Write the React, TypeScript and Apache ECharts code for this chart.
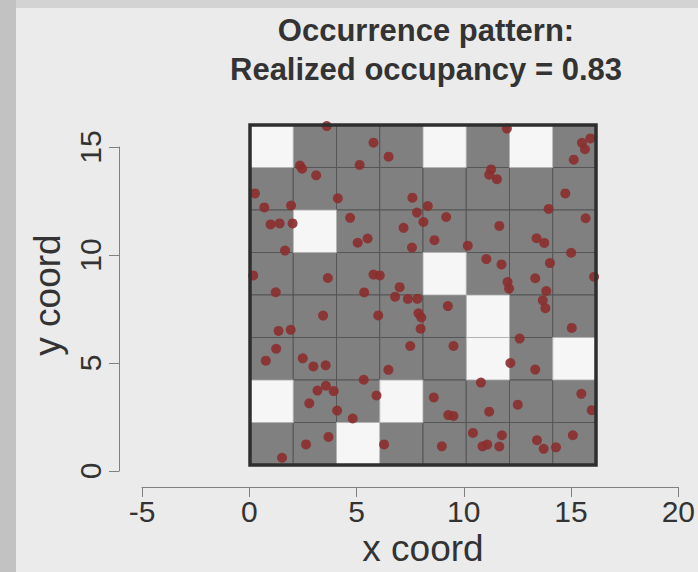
import React, { useEffect, useRef } from "react";
import * as echarts from "echarts";

const titleLines = ["Occurrence pattern:", "Realized occupancy = 0.83"];
const xAxisTitle = "x coord";
const yAxisTitle = "y coord";
const xTickRange = [-5, 20];
const yTickRange = [0, 15];
const tickStep = 5;
const fieldRange = [0, 16];
const cellSize = 2;

// occupancy per 2x2 cell, top row (y 14–16) first, down to bottom row (y 0–2); 1 = occupied
const occupancyRows = [
  [0, 1, 1, 1, 0, 1, 0, 1],
  [1, 1, 1, 1, 1, 1, 1, 1],
  [1, 0, 1, 1, 1, 1, 1, 1],
  [1, 1, 1, 1, 0, 1, 1, 1],
  [1, 1, 1, 1, 1, 0, 1, 1],
  [1, 1, 1, 1, 1, 0, 1, 0],
  [0, 1, 1, 0, 1, 1, 1, 1],
  [1, 1, 0, 1, 1, 1, 1, 1],
];

const pointX = [
  3.55, 5.71, 6.41, 5.07, 2.31, 2.41, 3.06, 0.23, 4.06, 7.51,
  0.66, 1.9, 7.72, 4.63, 0.95, 1.37, 1.97, 7.1, 4.98, 5.44,
  7.49, 1.62, 0.15, 3.6, 5.71, 6.0, 6.92, 1.19, 5.28, 8.22,
  9.07, 8.02, 8.53, 10.07, 11.88, 15.35, 15.74, 15.49, 14.97, 11.15,
  11.06, 11.42, 14.58, 13.81, 15.52, 11.53, 13.25, 13.61, 14.85, 10.93,
  11.63, 13.87, 15.91, 13.19, 11.91, 11.98, 13.7, 6.71, 7.3, 7.74,
  3.38, 5.93, 9.15, 7.79, 7.92, 7.89, 1.32, 1.88, 1.21, 7.41,
  9.41, 0.73, 2.44, 2.93, 3.5, 6.4, 5.26, 3.51, 3.12, 3.87,
  5.85, 2.74, 4.03, 4.75, 3.63, 6.2, 2.59, 1.48, 8.5, 9.17,
  9.41, 10.31, 8.87, 13.54, 13.66, 14.88, 12.47, 12.04, 13.19, 10.68,
  15.32, 12.38, 15.8, 11.06, 11.65, 14.93, 13.27, 10.75, 10.97, 11.53,
  13.58, 14.15,
];
const pointY = [
  15.95, 15.17, 14.51, 14.12, 14.09, 13.94, 13.63, 12.78, 12.55, 12.58,
  12.12, 12.21, 11.88, 11.63, 11.32, 11.37, 11.37, 11.16, 10.46, 10.66,
  10.23, 10.09, 8.92, 8.8, 8.96, 8.92, 8.37, 8.13, 8.12, 12.19,
  11.67, 11.44, 10.58, 10.32, 15.83, 15.16, 15.37, 14.86, 14.37, 13.91,
  13.66, 13.45, 12.78, 12.05, 11.61, 11.25, 10.67, 10.45, 9.99, 9.69,
  9.44, 9.5, 8.86, 8.79, 8.61, 8.3, 8.19, 7.92, 7.81, 7.82,
  7.03, 7.04, 7.48, 7.14, 6.94, 6.41, 6.31, 6.36, 5.47, 5.6,
  5.6, 4.91, 5.02, 4.64, 4.69, 4.48, 4.01, 3.73, 3.5, 3.48,
  3.27, 2.9, 2.56, 2.19, 1.32, 0.97, 0.97, 0.34, 3.18, 2.35,
  2.31, 1.51, 0.88, 7.75, 7.38, 6.45, 5.95, 4.8, 4.49, 3.88,
  3.35, 2.84, 2.58, 2.51, 1.4, 1.4, 1.17, 0.88, 0.96, 0.87,
  0.76, 0.83,
];

const FONT = '"Liberation Sans", Arial, sans-serif';

export default function App() {
  const ref = useRef<HTMLDivElement>(null);

  useEffect(() => {
    if (!ref.current) return;
    const chart = echarts.init(ref.current, undefined, { renderer: "svg" });

    const nRows = occupancyRows.length;
    const cells: number[][] = [];
    occupancyRows.forEach((row, i) => {
      row.forEach((occ, j) => {
        cells.push([j * cellSize, (nRows - 1 - i) * cellSize, occ]);
      });
    });
    // occupied cells first so the empty cells' light edges sit on top
    cells.sort((a, b) => b[2] - a[2]);

    const points = pointX.map((x, i) => [x, pointY[i]]);

    const option: any = {
      animation: false,
      backgroundColor: "#ebebeb",
      title: {
        text: titleLines.join("\n"),
        left: 421,
        top: 6,
        textAlign: "center",
        textStyle: {
          fontSize: 31,
          fontWeight: "bold",
          lineHeight: 39,
          color: "#333333",
          fontFamily: FONT,
        },
      },
      graphic: [
        {
          type: "rect",
          z: -10,
          shape: { x: 0, y: 0, width: 698, height: 8 },
          style: { fill: "#d3d3d3" },
        },
        {
          type: "rect",
          z: -10,
          shape: { x: 0, y: 0, width: 16, height: 572 },
          style: { fill: "#c2c2c2" },
        },
      ],
      grid: [
        { left: 250, top: 125, width: 346, height: 346 },
        { left: 142, top: 486, width: 540, height: 1 },
        { left: 119, top: 147, width: 1, height: 324 },
      ],
      xAxis: [
        {
          gridIndex: 0,
          type: "value",
          min: fieldRange[0],
          max: fieldRange[1],
          axisLine: { show: false },
          axisTick: { show: false },
          axisLabel: { show: false },
          splitLine: { show: false },
          name: xAxisTitle,
          nameLocation: "middle",
          nameGap: 65,
          nameTextStyle: { fontSize: 37, color: "#333333", fontFamily: FONT },
        },
        {
          gridIndex: 1,
          type: "value",
          min: xTickRange[0],
          max: xTickRange[1],
          interval: tickStep,
          axisLine: { show: true, lineStyle: { color: "#808080", width: 1 } },
          axisTick: { show: true, length: 10, lineStyle: { color: "#808080", width: 1 } },
          axisLabel: { fontSize: 30, color: "#333333", fontFamily: FONT, margin: 9 },
          splitLine: { show: false },
        },
        { gridIndex: 2, type: "value", show: false, min: 0, max: 1 },
      ],
      yAxis: [
        {
          gridIndex: 0,
          type: "value",
          min: fieldRange[0],
          max: fieldRange[1],
          axisLine: { show: false },
          axisTick: { show: false },
          axisLabel: { show: false },
          splitLine: { show: false },
          name: yAxisTitle,
          nameLocation: "middle",
          nameGap: 184,
          nameTextStyle: { fontSize: 37, color: "#333333", fontFamily: FONT },
        },
        { gridIndex: 1, type: "value", show: false, min: 0, max: 1 },
        {
          gridIndex: 2,
          type: "value",
          min: yTickRange[0],
          max: yTickRange[1],
          interval: tickStep,
          axisLine: { show: true, lineStyle: { color: "#808080", width: 1 } },
          axisTick: { show: true, length: 10, lineStyle: { color: "#808080", width: 1 } },
          axisLabel: { fontSize: 30, color: "#333333", fontFamily: FONT, margin: 14, rotate: 90 },
          splitLine: { show: false },
        },
      ],
      series: [
        {
          type: "custom",
          xAxisIndex: 0,
          yAxisIndex: 0,
          encode: { x: 0, y: 1 },
          data: cells,
          renderItem: (params: any, api: any) => {
            const x0 = api.value(0);
            const y0 = api.value(1);
            const occ = api.value(2);
            const p0 = api.coord([x0, y0 + cellSize]);
            const p1 = api.coord([x0 + cellSize, y0]);
            return {
              type: "rect",
              shape: { x: p0[0], y: p0[1], width: p1[0] - p0[0], height: p1[1] - p0[1] },
              style: {
                fill: occ ? "#808080" : "#f6f6f6",
                stroke: occ ? "#555555" : "#b4b4b4",
                lineWidth: 1,
              },
            };
          },
        },
        {
          type: "scatter",
          xAxisIndex: 0,
          yAxisIndex: 0,
          data: points,
          symbol: "circle",
          symbolSize: 10,
          clip: false,
          itemStyle: { color: "#8c2e2e", opacity: 0.9 },
          z: 5,
        },
        {
          type: "custom",
          xAxisIndex: 0,
          yAxisIndex: 0,
          encode: { x: 0, y: 1 },
          data: [[fieldRange[0], fieldRange[0], fieldRange[1], fieldRange[1]]],
          z: 6,
          renderItem: (params: any, api: any) => {
            const p0 = api.coord([api.value(0), api.value(3)]);
            const p1 = api.coord([api.value(2), api.value(1)]);
            return {
              type: "rect",
              shape: { x: p0[0], y: p0[1], width: p1[0] - p0[0], height: p1[1] - p0[1] },
              style: { fill: "none", stroke: "#2e2e2e", lineWidth: 3.5 },
            };
          },
        },
      ],
    };

    chart.setOption(option);
    return () => {
      chart.dispose();
    };
  }, []);

  return (
    <div
      ref={ref}
      style={{ position: "absolute", left: 0, top: 0, width: 698, height: 572 }}
    />
  );
}
